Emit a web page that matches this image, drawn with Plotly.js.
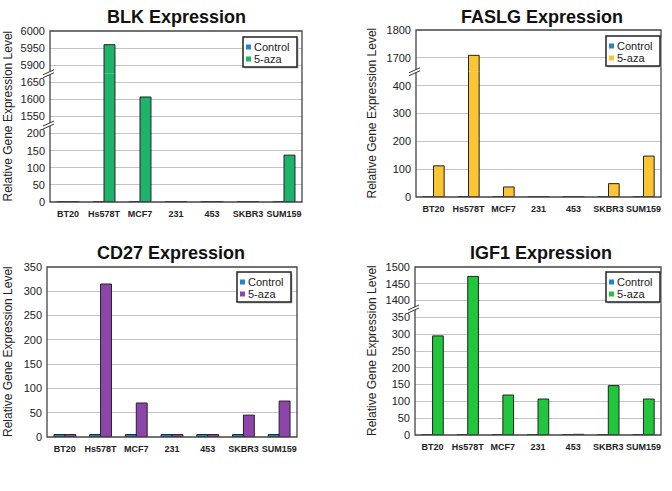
<!DOCTYPE html>
<html><head><meta charset="utf-8">
<script src="https://cdn.plot.ly/plotly-3.0.1.min.js"></script>
<style>html,body{margin:0;padding:0;background:#fff}#chart{width:672px;height:491px}</style>
</head><body><div id="chart"></div>
<script>
// ---- data ----
const categories = ['BT20', 'Hs578T', 'MCF7', '231', '453', 'SKBR3', 'SUM159'];
const seriesNames = ['Control', '5-aza'];
const blkControl = [1, 1, 1, 1, 1, 1, 1];
const blkAza = [1, 5960, 1607, 1, 1, 1, 137];
const faslgControl = [1, 1, 1, 1, 1, 1, 1];
const faslgAza = [112, 1709, 36, 1, 1, 48, 147];
const cd27Control = [5, 5, 5, 5, 5, 5, 5];
const cd27Aza = [5, 315, 70, 5, 5, 45, 74];
const igf1Control = [1, 1, 1, 1, 1, 1, 1];
const igf1Aza = [295, 1472, 119, 107, 2, 147, 107];
const panelTitles = ['BLK Expression', 'FASLG Expression', 'CD27 Expression', 'IGF1 Expression'];
const yTitle = 'Relative Gene Expression Level';
// axis segments (broken axes) per panel
const blkSegments = [[0, 225], [1525, 1675], [5875, 6000]];
const faslgSegments = [[0, 450], [1650, 1800]];
const cd27Segments = [[0, 350]];
const igf1Segments = [[0, 375], [1375, 1500]];

// ---- layout helpers ----
const W = 672, H = 491;
const FONT = 'Liberation Sans, Arial, sans-serif';
const px = v => v / W;
const py = v => 1 - v / H;
const controlColor = '#1b87d2';

const panels = [
  {title: panelTitles[0], control: blkControl, aza: blkAza, color: '#1db36b', box: [50, 302, 31, 202], segs: blkSegments, dtick: 50, leg: [243, 37], tpos: [176, 17], ytx: 8},
  {title: panelTitles[1], control: faslgControl, aza: faslgAza, color: '#fbc433', box: [416, 661, 30, 197], segs: faslgSegments, dtick: 100, leg: [606, 36], tpos: [542, 17], ytx: 372},
  {title: panelTitles[2], control: cd27Control, aza: cd27Aza, color: '#8e45ab', box: [47, 297, 267, 437], segs: cd27Segments, dtick: 50, leg: [237, 272], tpos: [171, 253], ytx: 8},
  {title: panelTitles[3], control: igf1Control, aza: igf1Aza, color: '#22c63c', box: [415, 661, 267, 435], segs: igf1Segments, dtick: 50, leg: [606, 272], tpos: [541, 253], ytx: 372}
];

const data = [];
const layout = {
  width: W, height: H,
  margin: {l: 0, r: 0, t: 0, b: 0},
  paper_bgcolor: '#fff', plot_bgcolor: '#fff',
  font: {family: FONT, color: '#222', size: 11},
  barmode: 'group', bargap: 0.39, bargroupgap: 0,
  showlegend: false,
  shapes: [], annotations: []
};

let yCount = 0;
panels.forEach((p, k) => {
  const xName = k === 0 ? 'x' : 'x' + (k + 1);
  const xKey = k === 0 ? 'xaxis' : 'xaxis' + (k + 1);
  const [bx0, bx1, byTop, byBot] = p.box;
  const units = p.segs.map(s => (s[1] - s[0]) / p.dtick);
  const total = units.reduce((a, b) => a + b, 0);
  const yBot = py(byBot), yTop = py(byTop);
  let acc = yBot;
  const yNames = [];
  const boundaries = [];
  p.segs.forEach((seg, i) => {
    yCount++;
    const yName = yCount === 1 ? 'y' : 'y' + yCount;
    const yKey = yCount === 1 ? 'yaxis' : 'yaxis' + yCount;
    yNames.push(yName);
    const d0 = acc, d1 = acc + (yTop - yBot) * units[i] / total;
    acc = d1;
    if (i < p.segs.length - 1) boundaries.push(d1);
    layout[yKey] = {
      domain: [d0, i === p.segs.length - 1 ? yTop : d1],
      anchor: xName,
      range: seg,
      tick0: 0, dtick: p.dtick,
      showgrid: true, gridcolor: '#c4c4c4', gridwidth: 1,
      zeroline: false, showline: false, ticks: '',
      tickfont: {family: FONT, size: 11, color: '#222'},
      ticklabelstandoff: 4,
      fixedrange: true
    };
    [p.control, p.aza].forEach((vals, j) => {
      data.push({
        type: 'bar',
        name: seriesNames[j],
        x: categories, y: vals,
        xaxis: xName, yaxis: yName,
        marker: {color: j === 0 ? controlColor : p.color, line: {color: '#222', width: 1}},
        hoverinfo: 'x+y+name'
      });
    });
  });
  layout[xKey] = {
    domain: [px(bx0), px(bx1)],
    anchor: yNames[0],
    type: 'category',
    showgrid: false, zeroline: false, showline: false, ticks: '',
    tickangle: 0,
    tickfont: {family: FONT, size: 9, color: '#222', weight: 'bold'},
    ticklabelstandoff: 5,
    fixedrange: true
  };
  // frame
  layout.shapes.push({type: 'rect', xref: xName + ' domain', yref: 'paper', x0: 0, x1: 1, y0: yBot, y1: yTop,
    line: {color: '#444', width: 1.3}, fillcolor: 'rgba(0,0,0,0)'});
  // break marks
  boundaries.forEach(b => {
    const common = {xref: xName + ' domain', xsizemode: 'pixel', xanchor: 0, yref: 'paper', ysizemode: 'pixel', yanchor: b};
    layout.shapes.push(Object.assign({type: 'path', path: 'M-7,-4L4,1L4,4L-7,-1Z', fillcolor: '#fff', line: {width: 0}}, common));
    layout.shapes.push(Object.assign({type: 'line', x0: -7, x1: 4, y0: -4, y1: 1, line: {color: '#333', width: 1}}, common));
    layout.shapes.push(Object.assign({type: 'line', x0: -7, x1: 4, y0: -1, y1: 4, line: {color: '#333', width: 1}}, common));
  });
  // legend (box, swatches, labels)
  const [lx, ly] = p.leg;
  layout.shapes.push({type: 'rect', xref: 'paper', yref: 'paper', x0: px(lx + 1.5), x1: px(lx + 55.5), y0: py(ly + 31.5), y1: py(ly + 1.5),
    line: {width: 0}, fillcolor: '#bbb'});
  layout.shapes.push({type: 'rect', xref: 'paper', yref: 'paper', x0: px(lx), x1: px(lx + 54), y0: py(ly + 30), y1: py(ly),
    line: {color: '#222', width: 1.5}, fillcolor: '#fff'});
  [controlColor, p.color].forEach((c, j) => {
    const cy = ly + 10 + j * 12;
    layout.shapes.push({type: 'rect', xref: 'paper', yref: 'paper', x0: px(lx + 3), x1: px(lx + 8), y0: py(cy + 2.5), y1: py(cy - 2.5),
      line: {width: 0}, fillcolor: c});
    layout.annotations.push({text: seriesNames[j], xref: 'paper', yref: 'paper', x: px(lx + 9), y: py(cy),
      xanchor: 'left', yanchor: 'middle', showarrow: false, font: {family: FONT, size: 11, color: '#222'}});
  });
  // titles
  layout.annotations.push({text: '<b>' + p.title + '</b>', xref: 'paper', yref: 'paper', x: px(p.tpos[0]), y: py(p.tpos[1]),
    xanchor: 'center', yanchor: 'middle', showarrow: false, font: {family: FONT, size: 18, color: '#111'}});
  layout.annotations.push({text: yTitle, xref: 'paper', yref: 'paper', x: px(p.ytx), y: (yBot + yTop) / 2,
    xanchor: 'center', yanchor: 'middle', textangle: -90, showarrow: false, font: {family: FONT, size: 12, color: '#222'}});
});

Plotly.newPlot('chart', data, layout, {displayModeBar: false, responsive: false});
</script>
</body></html>
